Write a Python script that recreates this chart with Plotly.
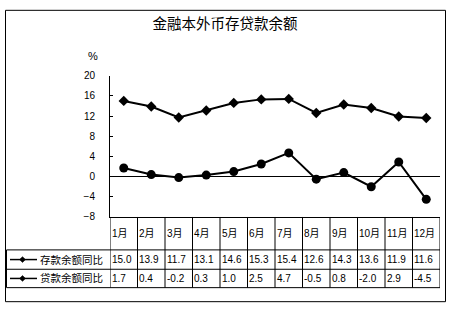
import plotly.graph_objects as go

W, H = 452, 312

months = ['1月', '2月', '3月', '4月', '5月', '6月', '7月', '8月', '9月', '10月', '11月', '12月']
deposit_name = '存款余额同比'
loan_name = '贷款余额同比'
deposit = [15.0, 13.9, 11.7, 13.1, 14.6, 15.3, 15.4, 12.6, 14.3, 13.6, 11.9, 11.6]
loan = [1.7, 0.4, -0.2, 0.3, 1.0, 2.5, 4.7, -0.5, 0.8, -2.0, 2.9, -4.5]
y_ticks = [-8, -4, 0, 4, 8, 12, 16, 20]

FONT = "Arial, 'Liberation Sans', 'Noto Sans CJK SC', sans-serif"


def px(x):
    return x / W


def py(y):
    return 1 - y / H


# plot area in pixels
PL, PR, PT, PB = 110, 440, 73, 219
ROW1, ROW2, ROW3 = 253, 273, 292

xs = list(range(len(months)))

fig = go.Figure()
fig.add_trace(go.Scatter(x=xs, y=deposit, mode='lines+markers', name=deposit_name,
                         line=dict(color='black', width=2),
                         marker=dict(symbol='diamond', size=8, color='black')))
fig.add_trace(go.Scatter(x=xs, y=loan, mode='lines+markers', name=loan_name,
                         line=dict(color='black', width=2),
                         marker=dict(symbol='circle', size=9, color='black')))

shapes = []
annotations = []
# outer border
shapes.append(dict(type='rect', xref='paper', yref='paper', x0=px(5.5), x1=px(445.5), y0=py(306.5), y1=py(5.5),
                   line=dict(color='black', width=1)))
# table horizontal lines
for yy in (ROW1, ROW2, ROW3):
    shapes.append(dict(type='line', xref='paper', yref='paper', x0=px(6.5), x1=px(PR), y0=py(yy), y1=py(yy),
                       line=dict(color='black', width=1)))
# left border of the legend column
shapes.append(dict(type='line', xref='paper', yref='paper', x0=px(6.5), x1=px(6.5), y0=py(ROW1), y1=py(ROW3),
                   line=dict(color='black', width=1)))
# vertical column lines
for i in range(len(months) + 1):
    shapes.append(dict(type='line', xref='x', yref='paper', x0=i - 0.5, x1=i - 0.5, y0=py(PB), y1=py(ROW3),
                       line=dict(color='black', width=1)))

# month labels and values
for i, m in enumerate(months):
    annotations.append(dict(x=i - 0.5, xref='x', y=py((PB + ROW1) / 2), yref='paper', text=m, showarrow=False,
                            xanchor='left', yanchor='middle', xshift=-0.5, font=dict(size=10, family=FONT, color='black')))
    annotations.append(dict(x=i - 0.5, xref='x', y=py((ROW1 + ROW2) / 2), yref='paper', text=f'{deposit[i]:.1f}',
                            showarrow=False, xanchor='left', yanchor='middle', xshift=-0.5,
                            font=dict(size=10, family=FONT, color='black')))
    annotations.append(dict(x=i - 0.5, xref='x', y=py((ROW2 + ROW3) / 2), yref='paper', text=f'{loan[i]:.1f}',
                            showarrow=False, xanchor='left', yanchor='middle', xshift=-0.5,
                            font=dict(size=10, family=FONT, color='black')))

# legend keys inside the table
for yy, name in (((ROW1 + ROW2) / 2, deposit_name), ((ROW2 + ROW3) / 2, loan_name)):
    shapes.append(dict(type='line', xref='paper', yref='paper', x0=px(10), x1=px(37), y0=py(yy), y1=py(yy),
                       line=dict(color='black', width=1.5)))
    cx, cy, r = 22.5, yy, 3
    path = (f"M {px(cx - r)} {py(cy)} L {px(cx)} {py(cy - r)} L {px(cx + r)} {py(cy)} "
            f"L {px(cx)} {py(cy + r)} Z")
    shapes.append(dict(type='path', xref='paper', yref='paper', path=path, fillcolor='black',
                       line=dict(color='black', width=0.5)))
    annotations.append(dict(x=px(38), xref='paper', y=py(yy), yref='paper', text=name, showarrow=False,
                            xanchor='left', yanchor='middle', font=dict(size=10.5, family=FONT, color='black')))

# percent label
annotations.append(dict(x=px(92.5), xref='paper', y=py(53), yref='paper', text='%', showarrow=False,
                        xanchor='center', yanchor='middle', font=dict(size=11, family=FONT, color='black')))

fig.update_layout(
    width=W, height=H,
    margin=dict(l=0, r=0, t=0, b=0),
    paper_bgcolor='white', plot_bgcolor='white',
    showlegend=False,
    title=dict(text='金融本外币存贷款余额', x=px(225), xanchor='center', y=py(24), yanchor='middle',
               font=dict(size=14.5, family="'Noto Sans CJK SC', sans-serif", color='black')),
    xaxis=dict(domain=[px(PL), px(PR)], range=[-0.5, len(months) - 0.5], showticklabels=False,
               showgrid=False, zeroline=False, showline=True, linecolor='black', linewidth=1, ticks=''),
    yaxis=dict(domain=[py(PB), py(PT)], range=[-8, 20], tickvals=y_ticks, showgrid=False,
               zeroline=True, zerolinecolor='black', zerolinewidth=1,
               showline=True, linecolor='black', linewidth=1, ticks='inside', ticklen=3, tickcolor='black',
               ticklabelstandoff=12, tickfont=dict(size=10, family=FONT, color='black')),
    shapes=shapes,
    annotations=annotations,
)

fig.write_html("out.html")
